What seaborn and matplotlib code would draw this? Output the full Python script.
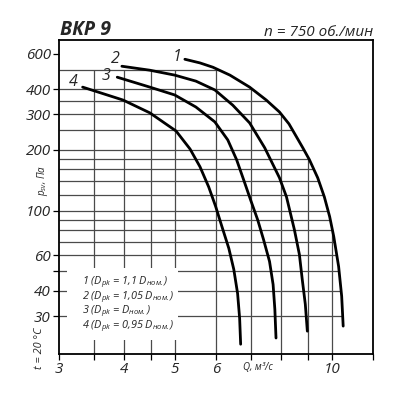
import numpy as np
import pandas as pd
import matplotlib
matplotlib.use('Agg')
import matplotlib.pyplot as plt
import seaborn as sns
from matplotlib.patches import Polygon, Rectangle
from matplotlib.ticker import NullLocator

# characteristic curves (Q in m3/s, p in Pa)
q1 = [5.23, 5.59, 5.92, 6.38, 6.96, 7.49, 7.94, 8.28, 8.56, 8.80, 9.06, 9.40, 9.68, 9.91, 10.09, 10.31, 10.45, 10.52]
p1 = [562, 539, 513, 469, 409, 353, 308, 269, 232, 205, 179, 145.5, 117, 93.4, 74.5, 52.9, 37.7, 26.8]
q2 = [3.96, 4.48, 5.00, 5.49, 5.97, 6.46, 6.96, 7.44, 7.94, 8.19, 8.48, 8.67, 8.78, 8.90, 8.98]
p2 = [519, 496, 469, 438, 396, 333, 272, 204.7, 145.5, 117, 80.6, 60.7, 45.7, 34.4, 25.3]
q3 = [3.88, 4.48, 5.00, 5.49, 5.97, 6.32, 6.57, 6.78, 6.99, 7.21, 7.40, 7.60, 7.72, 7.78, 7.82]
p3 = [458, 409, 374, 326, 275, 224, 179, 142, 113, 90.3, 72, 56.0, 43.1, 32.5, 23.4]
q4 = [3.33, 3.98, 4.48, 5.03, 5.35, 5.59, 5.81, 5.99, 6.15, 6.35, 6.49, 6.60, 6.66, 6.69]
p4 = [409, 353, 305, 248, 202, 165, 131, 105, 84.4, 65, 51.2, 38.9, 29.3, 21.8]
curve_names = ['1', '2', '3', '4']

legend_lines = [
    '1 ($D_{pk}$ = 1,1 $D_{ном.}$)',
    '2 ($D_{pk}$ = 1,05 $D_{ном.}$)',
    '3 ($D_{pk}$ = $D_{ном.}$)',
    '4 ($D_{pk}$ = 0,95 $D_{ном.}$)',
]

x_ticks = [3, 3.5, 4, 4.5, 5, 6, 7, 8, 9, 10, 12]
x_labels = ['3', '', '4', '', '5', '6', '', '', '', '10', '']
y_ticks = [30, 40, 50, 60, 100, 200, 300, 400, 600]
y_labels = ['30', '40', '', '60', '100', '200', '300', '400', '600']
x_grid = [3.5, 4, 4.5, 5, 6, 7, 8, 9, 10]
y_grid = [30, 40, 50, 60, 70, 80, 90, 100, 120, 140, 160, 180, 200, 250, 300, 350, 400, 500]

sns.set_style('white')
plt.rcParams['font.family'] = ['Open Sans', 'DejaVu Sans']
plt.rcParams['font.style'] = 'italic'
plt.rcParams['mathtext.fontset'] = 'custom'
plt.rcParams['mathtext.it'] = 'Open Sans:italic'
plt.rcParams['mathtext.rm'] = 'Open Sans:italic'

df = pd.concat([
    pd.DataFrame({'Q': q, 'p': p, 'curve': name})
    for q, p, name in zip([q1, q2, q3, q4], [p1, p2, p3, p4], curve_names)
])

fig = plt.figure(figsize=(4, 4), dpi=100)
ax = fig.add_axes([0.1475, 0.115, 0.785, 0.785])
ax.set_xscale('log')
ax.set_yscale('log')
xmin, xmax = 3, 12
ymin, ymax = 19.5, 700
ax.set_xlim(xmin, xmax)
ax.set_ylim(ymin, ymax)

# grid only under curve 1
clip = Polygon([(xmin, ymax), (q1[0], ymax)] + list(zip(q1, p1)) + [(q1[-1], 1), (xmin, 1)],
               closed=True, transform=ax.transData, fc='none', ec='none')
hl = ax.hlines(y_grid, xmin, xmax, colors='#4a4a4a', lw=0.9, zorder=1)
vl = ax.vlines(x_grid, 1, max(y_grid), colors='#4a4a4a', lw=0.9, zorder=1)
hl.set_clip_path(clip)
vl.set_clip_path(clip)

sns.lineplot(data=df, x='Q', y='p', hue='curve', palette=['black'] * 4,
             estimator=None, sort=False, legend=False, lw=2.0, ax=ax, zorder=3)

# curve numbers sit just left of each curve start
label_offsets = [(-8, 2), (-7, 7), (-11, 1), (-9, 5)]
for name, q, p, off in zip(curve_names, [q1, q2, q3, q4], [p1, p2, p3, p4], label_offsets):
    ax.annotate(name, xy=(q[0], p[0]), xytext=off, textcoords='offset pixels',
                ha='center', va='center', fontsize=11.5)

# white box with the diameter notes
ax.add_patch(Rectangle((0.025, 0.045), 0.354, 0.229, transform=ax.transAxes,
                       fc='white', ec='none', zorder=2))
for i, line in enumerate(legend_lines):
    ax.text(0.073, 0.229 - i * 0.047, line, transform=ax.transAxes,
            fontsize=7.8, ha='left', va='center', zorder=4)

ax.set_xticks(x_ticks)
ax.set_xticklabels(x_labels)
ax.set_yticks(y_ticks)
ax.set_yticklabels(y_labels)
ax.xaxis.set_minor_locator(NullLocator())
ax.yaxis.set_minor_locator(NullLocator())
ax.tick_params(direction='out', length=4.5, width=0.9, pad=1.5, labelsize=11,
               bottom=True, left=True, color='black')
ax.set_xlabel('')
ax.set_ylabel('')
for s in ax.spines.values():
    s.set_linewidth(1.3)
    s.set_color('black')

fig.text(60 / 400, 1 - 35 / 400, 'ВКР 9', fontsize=14, fontweight='bold', ha='left', va='baseline')
fig.text(373 / 400, 1 - 36 / 400, 'n = 750 об./мин', fontsize=11, ha='right', va='baseline')
fig.text(42 / 400, 1 - 180 / 400, '$p_{sv}$, Па', fontsize=7, rotation=90, ha='center', va='center')
fig.text(40 / 400, 1 - 348 / 400, 't = 20 °C', fontsize=7.8, rotation=90, ha='center', va='center')
fig.text(243 / 400, 1 - 368 / 400, 'Q, м³/с', fontsize=7, ha='left', va='center')

fig.savefig('out.png', dpi=100)
